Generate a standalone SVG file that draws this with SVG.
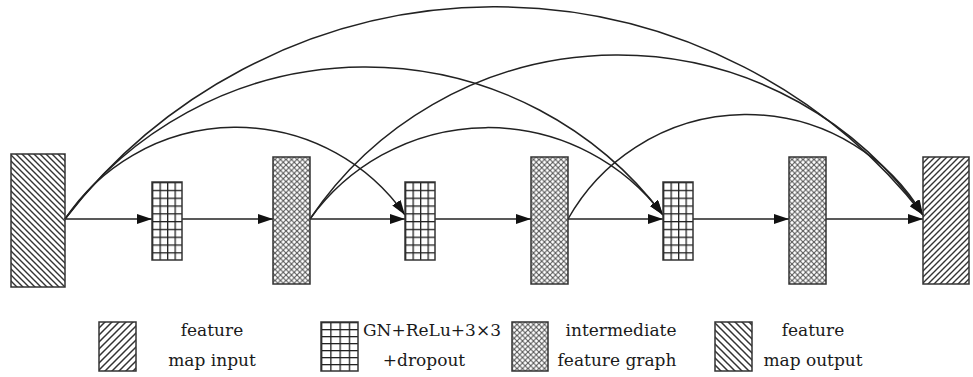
<svg xmlns="http://www.w3.org/2000/svg" width="973" height="377" viewBox="0 0 973 377">
<style>
.box{stroke:#333;stroke-width:1.5}
.conn{fill:none;stroke:#222;stroke-width:1.5}
.lbl{font-family:"DejaVu Serif","Liberation Serif",serif;font-size:17px;fill:#1a1a1a;text-anchor:middle}
</style>
<defs>
<marker id="arr" viewBox="0 0 15 10" refX="15" refY="5" markerWidth="15" markerHeight="10" markerUnits="userSpaceOnUse" orient="auto">
<path d="M0 0L15 5L0 10z" fill="#111"/>
</marker>
<pattern id="back" patternUnits="userSpaceOnUse" width="6" height="6">
<path d="M-1 -1L7 7M-1 5L1 7M5 -1L7 1" stroke="#333" stroke-width="1.4"/>
</pattern>
<pattern id="fwd" patternUnits="userSpaceOnUse" width="6" height="6">
<path d="M-1 7L7 -1M-1 1L1 -1M5 7L7 5" stroke="#333" stroke-width="1.4"/>
</pattern>
<pattern id="backL" patternUnits="userSpaceOnUse" width="7" height="7">
<path d="M-1 -1L8 8M-1 6L1 8M6 -1L8 1" stroke="#333" stroke-width="1.5"/>
</pattern>
<pattern id="fwdL" patternUnits="userSpaceOnUse" width="7" height="7">
<path d="M-1 8L8 -1M-1 1L1 -1M6 8L8 6" stroke="#333" stroke-width="1.5"/>
</pattern>
<pattern id="cross" patternUnits="userSpaceOnUse" width="5.5" height="5.5">
<rect width="5.5" height="5.5" fill="#fff"/>
<path d="M0 0L5.5 5.5M5.5 0L0 5.5" stroke="#555" stroke-width="1.1"/>
</pattern>
<pattern id="grid" patternUnits="objectBoundingBox" width="0.25" height="0.1">
<rect width="7.5" height="7.8" fill="#fff"/>
<rect width="1.3" height="7.8" fill="#222"/>
<rect width="7.5" height="1.3" fill="#222"/>
</pattern>
<pattern id="gridL" patternUnits="objectBoundingBox" width="0.25" height="0.142857">
<rect width="9.25" height="7.15" fill="#fff"/>
<rect width="1.3" height="7.15" fill="#222"/>
<rect width="9.25" height="1.3" fill="#222"/>
</pattern>
</defs>
<rect width="973" height="377" fill="#fff"/>

<g id="connectors">
<path class="conn" marker-end="url(#arr)" d="M65 219A543 543 0 0 1 923 215"/>
<path class="conn" marker-end="url(#arr)" d="M65 219A373 373 0 0 1 663 215"/>
<path class="conn" marker-end="url(#arr)" d="M65 219A206 206 0 0 1 405 215"/>
<path class="conn" marker-end="url(#arr)" d="M310 219A371 371 0 0 1 923 215"/>
<path class="conn" marker-end="url(#arr)" d="M310 219A219 219 0 0 1 663 215"/>
<path class="conn" marker-end="url(#arr)" d="M568 219A205 205 0 0 1 923 215"/>
<path class="conn" marker-end="url(#arr)" d="M65 219H152"/>
<path class="conn" marker-end="url(#arr)" d="M182 219H273"/>
<path class="conn" marker-end="url(#arr)" d="M310 219H405"/>
<path class="conn" marker-end="url(#arr)" d="M435 219H531"/>
<path class="conn" marker-end="url(#arr)" d="M568 219H663"/>
<path class="conn" marker-end="url(#arr)" d="M693 219H789"/>
<path class="conn" marker-end="url(#arr)" d="M826 219H923"/>
</g>

<g id="input"><rect class="box" x="11" y="154" width="54" height="133" fill="url(#back)"/></g>
<g id="conv1"><rect class="box" x="152" y="182" width="30" height="78" fill="url(#grid)"/></g>
<g id="mid1"><rect class="box" x="273" y="157" width="37" height="127" fill="url(#cross)"/></g>
<g id="conv2"><rect class="box" x="405" y="182" width="30" height="78" fill="url(#grid)"/></g>
<g id="mid2"><rect class="box" x="531" y="157" width="37" height="127" fill="url(#cross)"/></g>
<g id="conv3"><rect class="box" x="663" y="182" width="30" height="78" fill="url(#grid)"/></g>
<g id="mid3"><rect class="box" x="789" y="157" width="37" height="127" fill="url(#cross)"/></g>
<g id="output"><rect class="box" x="923" y="157" width="46" height="127" fill="url(#fwd)"/></g>

<g id="legend-input">
<rect class="box" x="99" y="322" width="37" height="49" fill="url(#fwdL)"/>
<text class="lbl" x="212" y="336">feature</text>
<text class="lbl" x="212" y="366">map input</text>
</g>
<g id="legend-conv">
<rect class="box" x="321" y="322" width="37" height="49" fill="url(#gridL)"/>
<text class="lbl" x="432" y="336">GN+ReLu+3×3</text>
<text class="lbl" x="424" y="366">+dropout</text>
</g>
<g id="legend-mid">
<rect class="box" x="512" y="322" width="36" height="49" fill="url(#cross)"/>
<text class="lbl" x="621" y="336">intermediate</text>
<text class="lbl" x="617" y="366">feature graph</text>
</g>
<g id="legend-output">
<rect class="box" x="715" y="322" width="37" height="49" fill="url(#backL)"/>
<text class="lbl" x="813" y="336">feature</text>
<text class="lbl" x="813" y="366">map output</text>
</g>
</svg>
